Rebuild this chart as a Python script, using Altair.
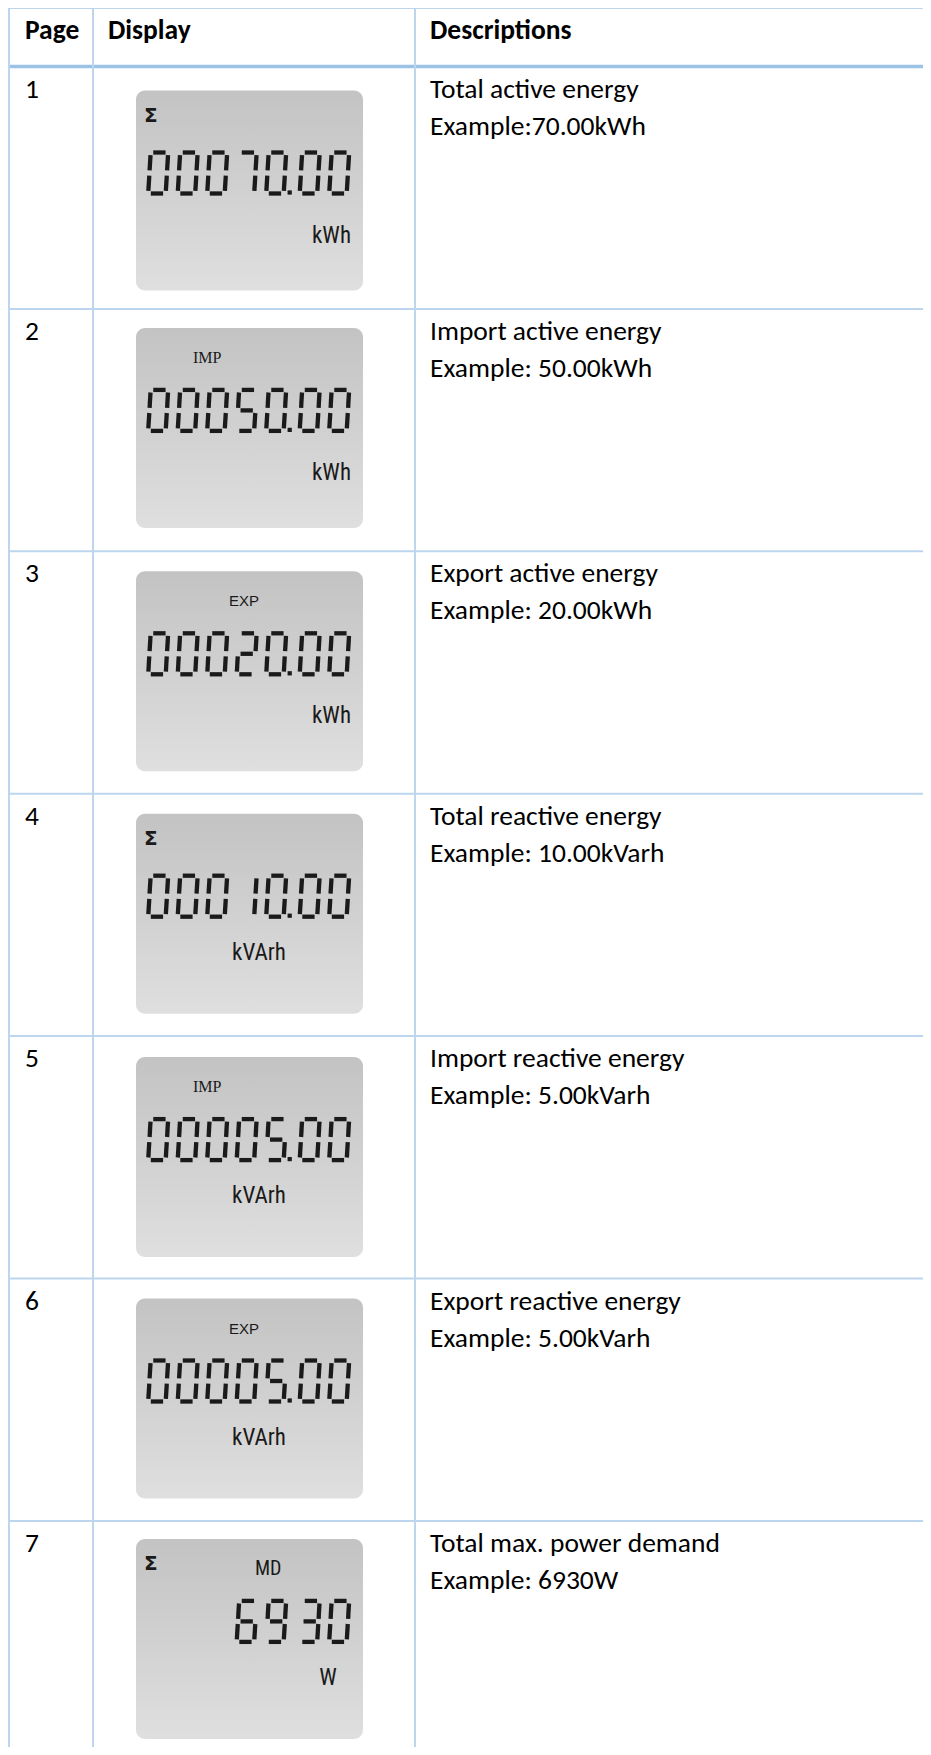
import altair as alt
import pandas as pd

# ---------------- data ----------------
headers = ["Page", "Display", "Descriptions"]
pages = ["1", "2", "3", "4", "5", "6", "7"]
desc_title = [
    "Total active energy",
    "Import active energy",
    "Export active energy",
    "Total reactive energy",
    "Import reactive energy",
    "Export reactive energy",
    "Total max. power demand",
]
desc_example = [
    "Example:70.00kWh",
    "Example: 50.00kWh",
    "Example: 20.00kWh",
    "Example: 10.00kVarh",
    "Example: 5.00kVarh",
    "Example: 5.00kVarh",
    "Example: 6930W",
]
lcd_sigma = ["Σ", "", "", "Σ", "", "", "Σ"]
lcd_mode = ["", "IMP", "EXP", "", "IMP", "EXP", "MD"]
lcd_value = ["00070.00", "00050.00", "00020.00", "00010.00", "00005.00", "00005.00", "6930"]
lcd_unit = ["kWh", "kWh", "kWh", "kVArh", "kVArh", "kVArh", "W"]

# ---------------- layout (page pixel units) ----------------
W, H = 915, 1739
XMIN, YMIN = 8, 8
TOP_LINE = 8
HEADER_LINE = 66.5
ROW_H = 242.4
COL_LINES = [9, 93, 415]
TEXT_X = [25, 108, 430]
PANEL_OFF = [24, 19, 20, 20, 21, 20, 18]
PANEL_X = (136, 363)
PANEL_H = 200

BODY_FONT = "Carlito, Calibri, Lato, sans-serif"
BODY_SIZE = 27.5
HEAD_SIZE = 27.5
NARROW_FONT = "Liberation Sans Narrow, Arial Narrow, Roboto Condensed, Roboto, sans-serif"
INK = "#1a1a1a"

xs = alt.Scale(domain=[XMIN, XMIN + W], nice=False, zero=False)
ys = alt.Scale(domain=[YMIN, YMIN + H], nice=False, zero=False, reverse=True)


def X(f="x"):
    return alt.X(f"{f}:Q", scale=xs, axis=None)


def Y(f="y"):
    return alt.Y(f"{f}:Q", scale=ys, axis=None)


row_top = [HEADER_LINE + i * ROW_H for i in range(len(pages))]

# ---------------- grid lines ----------------
hl = [dict(y=TOP_LINE, x=COL_LINES[0] - 1, x2=XMIN + W, c="#BDD6EE", w=2),
      dict(y=HEADER_LINE, x=COL_LINES[0] - 1, x2=XMIN + W, c="#9CC2E5", w=3.5)]
for i in range(1, len(pages)):
    hl.append(dict(y=row_top[i], x=COL_LINES[0] - 1, x2=XMIN + W, c="#BDD6EE", w=2))
hl_df = pd.DataFrame(hl)
vl_df = pd.DataFrame([dict(x=cx, y=TOP_LINE, y2=YMIN + H, c="#BDD6EE", w=2) for cx in COL_LINES])

hlines = alt.Chart(hl_df).mark_rule().encode(
    x=X(), x2="x2:Q", y=Y(),
    color=alt.Color("c:N", scale=None),
    strokeWidth=alt.StrokeWidth("w:Q", scale=None),
)
vlines = alt.Chart(vl_df).mark_rule().encode(
    x=X(), y=Y(), y2="y2:Q",
    color=alt.Color("c:N", scale=None),
    strokeWidth=alt.StrokeWidth("w:Q", scale=None),
)

# ---------------- header and text ----------------
head_df = pd.DataFrame(dict(x=TEXT_X, y=[39] * 3, t=headers))
head = alt.Chart(head_df).mark_text(
    align="left", baseline="alphabetic", font=BODY_FONT, fontSize=HEAD_SIZE, fontWeight="bold", color="#000"
).encode(x=X(), y=Y(), text="t:N")

body_rows = []
for i in range(len(pages)):
    body_rows.append(dict(x=TEXT_X[0], y=row_top[i] + 31, t=pages[i]))
    body_rows.append(dict(x=TEXT_X[2], y=row_top[i] + 31, t=desc_title[i]))
    body_rows.append(dict(x=TEXT_X[2], y=row_top[i] + 68, t=desc_example[i]))
body = alt.Chart(pd.DataFrame(body_rows)).mark_text(
    align="left", baseline="alphabetic", font=BODY_FONT, fontSize=BODY_SIZE, color="#000"
).encode(x=X(), y=Y(), text="t:N")

# ---------------- LCD panels ----------------
ptop = [row_top[i] + PANEL_OFF[i] for i in range(len(pages))]
panel_df = pd.DataFrame(dict(x=[PANEL_X[0]] * 7, x2=[PANEL_X[1]] * 7,
                             y=ptop, y2=[p + PANEL_H for p in ptop]))
grad = alt.Gradient(
    gradient="linear",
    stops=[alt.GradientStop(color="#c3c3c3", offset=0),
           alt.GradientStop(color="#d2d2d2", offset=0.55),
           alt.GradientStop(color="#dfdfdf", offset=1)],
    x1=0, x2=0, y1=0, y2=1,
)
panels = alt.Chart(panel_df).mark_rect(cornerRadius=9, fill=grad).encode(
    x=X(), x2="x2:Q", y=Y(), y2="y2:Q"
)

# seven segment digits
SEG = {"0": "abcdef", "1": "bc", "2": "abdeg", "3": "abcdg", "4": "bcfg",
       "5": "acdfg", "6": "acdefg", "7": "abc", "8": "abcdefg", "9": "abcdfg"}
SLOT_X0, PITCH, DP_GAP = 146, 29.5, 4
DW, DH, GAP, SLANT, INSET = 17.5, 41, 2.6, 0.06, 2.2
NSLOT = 7
seg_rows, dp_rows = [], []
for i, val in enumerate(lcd_value):
    top = ptop[i] + 62
    bot = top + DH
    mid = top + DH / 2
    digits = val.replace(".", "")
    start = NSLOT - len(digits)
    for k, ch in enumerate(digits):
        slot = start + k
        x0 = SLOT_X0 + PITCH * slot + (DP_GAP if slot >= 5 else 0) + INSET
        pts = {
            "a": (x0 + GAP, top, x0 + DW - GAP, top),
            "b": (x0 + DW, top + GAP, x0 + DW, mid - GAP),
            "c": (x0 + DW, mid + GAP, x0 + DW, bot - GAP),
            "d": (x0 + GAP, bot, x0 + DW - GAP, bot),
            "e": (x0, mid + GAP, x0, bot - GAP),
            "f": (x0, top + GAP, x0, mid - GAP),
            "g": (x0 + GAP, mid, x0 + DW - GAP, mid),
        }
        for s in SEG[ch]:
            xa, ya, xb, yb = pts[s]
            seg_rows.append(dict(x=xa + SLANT * (bot - ya), y=ya,
                                 x2=xb + SLANT * (bot - yb), y2=yb))
    if "." in val:
        dp_rows.append(dict(x=SLOT_X0 + PITCH * 4 + INSET + DW + 6, y=bot - 1))
segs = alt.Chart(pd.DataFrame(seg_rows)).mark_rule(
    strokeWidth=4.3, color=INK, strokeCap="butt"
).encode(x=X(), y=Y(), x2="x2:Q", y2="y2:Q")
dps = alt.Chart(pd.DataFrame(dp_rows)).mark_square(
    size=18, color=INK, opacity=1
).encode(x=X(), y=Y())

# LCD labels
sig_df = pd.DataFrame([dict(x=144, y=ptop[i] + 31, t=s) for i, s in enumerate(lcd_sigma) if s])
sig = alt.Chart(sig_df).mark_text(
    align="left", baseline="alphabetic", font="DejaVu Sans", fontWeight="bold", fontSize=20, color=INK
).encode(x=X(), y=Y(), text="t:N")

imp_df = pd.DataFrame([dict(x=193, y=ptop[i] + 35, t=m) for i, m in enumerate(lcd_mode) if m == "IMP"])
imp = alt.Chart(imp_df).mark_text(
    align="left", baseline="alphabetic", font="Liberation Serif", fontSize=16, color=INK
).encode(x=X(), y=Y(), text="t:N")

exp_df = pd.DataFrame([dict(x=229, y=ptop[i] + 35, t=m) for i, m in enumerate(lcd_mode) if m == "EXP"])
exp_ = alt.Chart(exp_df).mark_text(
    align="left", baseline="alphabetic", font="Liberation Sans", fontSize=15, color=INK
).encode(x=X(), y=Y(), text="t:N")

md_df = pd.DataFrame([dict(x=255, y=ptop[i] + 36, t=m) for i, m in enumerate(lcd_mode) if m == "MD"])
md = alt.Chart(md_df).mark_text(
    align="left", baseline="alphabetic", font=NARROW_FONT, fontSize=20, color=INK
).encode(x=X(), y=Y(), text="t:N")

unit_rows = []
for i, u in enumerate(lcd_unit):
    if u == "kWh":
        unit_rows.append(dict(x=351, y=ptop[i] + 152, t=u, a="right"))
    elif u == "kVArh":
        unit_rows.append(dict(x=259, y=ptop[i] + 146, t=u, a="center"))
    else:
        unit_rows.append(dict(x=328, y=ptop[i] + 146, t=u, a="center"))
unit_df = pd.DataFrame(unit_rows)
units_r = alt.Chart(unit_df[unit_df.a == "right"]).mark_text(
    align="right", baseline="alphabetic", font=NARROW_FONT, fontSize=23, color=INK
).encode(x=X(), y=Y(), text="t:N")
units_c = alt.Chart(unit_df[unit_df.a == "center"]).mark_text(
    align="center", baseline="alphabetic", font=NARROW_FONT, fontSize=23, color=INK
).encode(x=X(), y=Y(), text="t:N")

chart = alt.layer(
    hlines, vlines, head, body, panels, segs, dps, sig, imp, exp_, md, units_r, units_c
).properties(
    width=W, height=H, padding=0, autosize="none", background="white"
).configure_view(stroke=None)

chart.save("out.html", embed_options={"renderer": "svg", "actions": False})
